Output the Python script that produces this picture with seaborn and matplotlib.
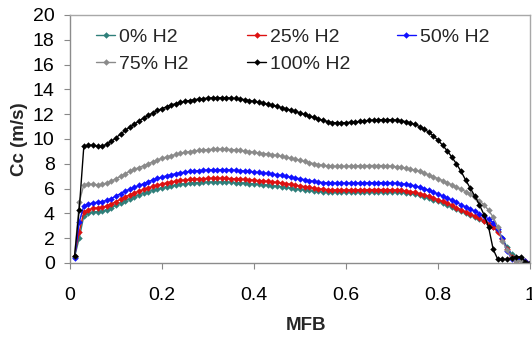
import numpy as np
import pandas as pd
import seaborn as sns
import matplotlib
matplotlib.use("Agg")
import matplotlib.pyplot as plt
from matplotlib.lines import Line2D

# Mass fraction burned (0.01 .. 1.00)
mfb = [round(0.01 * i, 2) for i in range(1, 101)]

cc_h2_0 = [
    0.5, 2.0, 3.8, 4.0, 4.1, 4.15, 4.2, 4.3, 4.45, 4.65,
    4.85, 5.03, 5.2, 5.35, 5.5, 5.63, 5.75, 5.87, 5.98, 6.08,
    6.16, 6.24, 6.3, 6.36, 6.4, 6.44, 6.47, 6.49, 6.51, 6.52,
    6.53, 6.53, 6.53, 6.52, 6.51, 6.49, 6.47, 6.44, 6.41, 6.38,
    6.35, 6.32, 6.28, 6.24, 6.2, 6.15, 6.1, 6.05, 6.0, 5.95,
    5.9, 5.85, 5.81, 5.78, 5.76, 5.75, 5.74, 5.74, 5.74, 5.74,
    5.74, 5.75, 5.75, 5.75, 5.76, 5.76, 5.76, 5.76, 5.76, 5.75,
    5.73, 5.7, 5.66, 5.61, 5.54, 5.45, 5.35, 5.23, 5.1, 4.96,
    4.82, 4.67, 4.52, 4.36, 4.2, 4.04, 3.88, 3.71, 3.54, 3.36,
    3.16, 2.9, 2.55, 2.0, 1.3, 0.7, 0.4, 0.4, 0.2, 0.0,
]

cc_h2_25 = [
    0.6, 2.5, 4.1, 4.3, 4.4, 4.45, 4.5, 4.6, 4.75, 4.95,
    5.15, 5.33, 5.5, 5.65, 5.8, 5.93, 6.05, 6.17, 6.28, 6.38,
    6.46, 6.54, 6.6, 6.66, 6.7, 6.74, 6.77, 6.79, 6.81, 6.82,
    6.83, 6.83, 6.83, 6.82, 6.81, 6.79, 6.77, 6.74, 6.71, 6.68,
    6.65, 6.62, 6.58, 6.54, 6.5, 6.45, 6.4, 6.34, 6.28, 6.22,
    6.16, 6.1, 6.04, 5.99, 5.95, 5.92, 5.9, 5.89, 5.89, 5.89,
    5.9, 5.9, 5.91, 5.91, 5.92, 5.92, 5.92, 5.92, 5.91, 5.9,
    5.88, 5.85, 5.81, 5.76, 5.69, 5.6, 5.5, 5.38, 5.25, 5.11,
    4.96, 4.8, 4.64, 4.47, 4.3, 4.13, 3.96, 3.78, 3.6, 3.4,
    3.18, 2.9, 2.5, 1.9, 1.1, 0.5, 0.2, 0.3, 0.15, 0.0,
]

cc_h2_50 = [
    0.4, 3.3, 4.6, 4.75, 4.85, 4.9, 4.95, 5.05, 5.2, 5.4,
    5.6, 5.8, 5.95, 6.1, 6.25, 6.4, 6.55, 6.7, 6.82, 6.93,
    7.03, 7.12, 7.2, 7.27, 7.33, 7.38, 7.42, 7.45, 7.48, 7.5,
    7.51, 7.52, 7.52, 7.51, 7.5, 7.48, 7.45, 7.42, 7.38, 7.34,
    7.3, 7.26, 7.22, 7.17, 7.12, 7.06, 7.0, 6.93, 6.86, 6.79,
    6.72, 6.65, 6.58, 6.53, 6.49, 6.46, 6.45, 6.44, 6.44, 6.44,
    6.44, 6.45, 6.45, 6.46, 6.46, 6.47, 6.47, 6.47, 6.46, 6.45,
    6.43, 6.4, 6.36, 6.3, 6.22, 6.12, 6.0, 5.87, 5.72, 5.56,
    5.4, 5.23, 5.06, 4.88, 4.7, 4.52, 4.35, 4.17, 3.98, 3.78,
    3.55, 3.25, 2.75, 2.0, 1.0, 0.35, 0.25, 0.35, 0.15, 0.0,
]

cc_h2_75 = [
    0.6, 4.9, 6.3, 6.35, 6.35, 6.3, 6.35, 6.45, 6.6, 6.8,
    7.0, 7.2, 7.4, 7.55, 7.7, 7.85, 8.0, 8.15, 8.3, 8.45,
    8.55, 8.65, 8.75, 8.85, 8.92, 8.98, 9.03, 9.08, 9.12, 9.15,
    9.17, 9.18, 9.18, 9.17, 9.15, 9.12, 9.08, 9.03, 8.98, 8.93,
    8.88, 8.83, 8.78, 8.73, 8.67, 8.6, 8.53, 8.45, 8.37, 8.28,
    8.19, 8.1, 8.01, 7.93, 7.87, 7.82, 7.8, 7.79, 7.79, 7.8,
    7.81, 7.83, 7.84, 7.85, 7.86, 7.86, 7.86, 7.85, 7.83, 7.8,
    7.76, 7.71, 7.65, 7.57, 7.48, 7.38, 7.25, 7.1, 6.95, 6.8,
    6.64, 6.47, 6.3, 6.12, 5.94, 5.76, 5.58, 5.32, 5.02, 4.7,
    4.25, 3.7, 2.9, 1.8, 1.05, 0.4, 0.2, 0.2, 0.1, 0.0,
]

cc_h2_100 = [
    0.6, 4.3, 9.4, 9.5, 9.5, 9.4, 9.4, 9.6, 9.8, 10.1,
    10.4, 10.7, 10.95, 11.2, 11.45, 11.7, 11.9, 12.1, 12.3, 12.45,
    12.6, 12.75, 12.85, 12.95, 13.05, 13.1, 13.17, 13.22, 13.26, 13.3,
    13.32, 13.33, 13.33, 13.32, 13.3, 13.27, 13.23, 13.17, 13.1, 13.03,
    12.95, 12.87, 12.8, 12.72, 12.63, 12.53, 12.43, 12.33, 12.22, 12.1,
    11.98, 11.86, 11.74, 11.62, 11.5, 11.4, 11.33, 11.3, 11.3, 11.32,
    11.35, 11.38, 11.42, 11.46, 11.5, 11.53, 11.55, 11.56, 11.56, 11.55,
    11.52, 11.47, 11.4, 11.3, 11.17, 11.0, 10.8, 10.55, 10.25, 9.9,
    9.5, 9.05, 8.55, 8.0, 7.4, 6.7, 6.05, 5.4, 4.7, 3.9,
    2.9, 1.1, 0.3, 0.3, 0.3, 0.4, 0.5, 0.5, 0.1, 0.0,
]

series_names = ["0% H2", "25% H2", "50% H2", "75% H2", "100% H2"]
series_values = [cc_h2_0, cc_h2_25, cc_h2_50, cc_h2_75, cc_h2_100]
colors = ["#2f7f7a", "#dd1111", "#1010ff", "#8a8a8a", "#000000"]

x_ticks = [0, 0.2, 0.4, 0.6, 0.8, 1]
x_tick_labels = ["0", "0.2", "0.4", "0.6", "0.8", "1"]
y_ticks = list(range(0, 21, 2))

df = pd.concat(
    [pd.DataFrame({"MFB": mfb, "Cc": vals, "series": name})
     for name, vals in zip(series_names, series_values)],
    ignore_index=True,
)

sns.set_style("ticks")
plt.rcParams["font.family"] = ["Liberation Sans", "DejaVu Sans"]

FS = 14

fig = plt.figure(figsize=(5.32, 3.37), dpi=100)
ax = fig.add_axes([0.1316, 0.2196, 0.8646, 0.7359])

palette = dict(zip(series_names, colors))
sns.lineplot(
    data=df, x="MFB", y="Cc", hue="series", hue_order=series_names,
    palette=palette, marker="D", markersize=3.3, markeredgewidth=0,
    linewidth=1.0, sort=False, legend=False, ax=ax,
)

ax.set_xlim(0, 1)
ax.set_ylim(0, 20)
ax.set_xticks(x_ticks)
ax.set_xticklabels(x_tick_labels)
ax.set_yticks(y_ticks)

ax.set_xlabel("MFB", fontsize=13.5, fontweight="bold", va="center")
ax.xaxis.set_label_coords(0.513, -0.252)
ax.set_ylabel("Cc (m/s)", fontsize=13.5, fontweight="bold", va="center")
ax.yaxis.set_label_coords(-0.11, 0.5)

ax.tick_params(axis="both", labelsize=FS, colors="#888888",
               labelcolor="black", length=4.5, width=0.8)
ax.tick_params(axis="x", pad=12.5)
ax.tick_params(axis="y", pad=6.5)

for side in ["left", "bottom"]:
    ax.spines[side].set_color("#8c8c8c")
    ax.spines[side].set_linewidth(1.0)
for side in ["top", "right"]:
    ax.spines[side].set_visible(True)
    ax.spines[side].set_color("#a8a8a8")
    ax.spines[side].set_linewidth(1.0)

# Legend laid out as three columns: (0%, 75%), (25%, 100%), (50%)
handles = [
    Line2D([0], [0], color=c, linewidth=1.0, marker="D", markersize=3.3,
           markeredgewidth=0)
    for c in colors
]
columns = [([0, 3], 0.0565), ([1, 4], 0.3848), ([2], 0.710)]
legends = []
for idx, x0 in columns:
    leg = ax.legend(
        [handles[i] for i in idx], [series_names[i] for i in idx],
        frameon=False, fontsize=FS, loc="upper left",
        bbox_to_anchor=(x0, 0.945), handlelength=1.0, handletextpad=0.2,
        labelspacing=0.45, borderaxespad=0, borderpad=0,
    )
    legends.append(leg)
for leg in legends[:-1]:
    ax.add_artist(leg)

fig.savefig("out.png", dpi=100)
